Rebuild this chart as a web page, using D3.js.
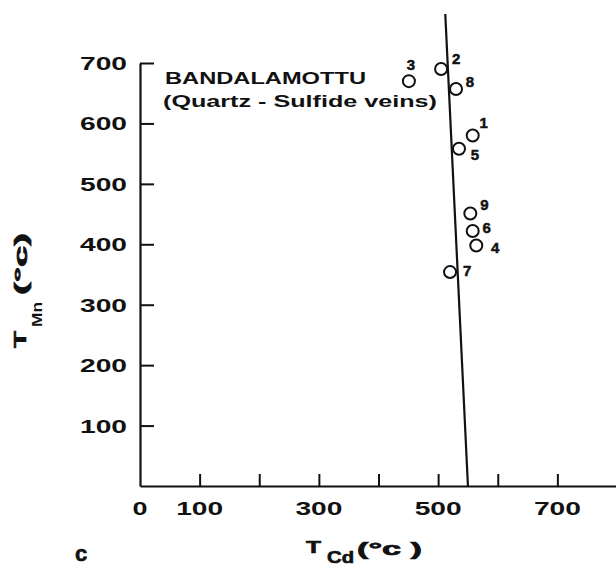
<!DOCTYPE html>
<html>
<head>
<meta charset="utf-8">
<script src="https://cdn.jsdelivr.net/npm/d3@7/dist/d3.min.js"></script>
<style>
  html, body { margin: 0; padding: 0; background: #fff; }
  svg { display: block; }
  text { font-family: "Liberation Sans", Arial, sans-serif; font-weight: bold; fill: #111; }
</style>
</head>
<body>
<svg id="chart" width="616" height="566"></svg>
<script>
// ---- Data ----
const sampleIds = ["1", "2", "3", "4", "5", "6", "7", "8", "9"];
const tCd = [558, 505, 451, 564, 535, 558, 520, 530, 554];   // x: T_Cd (°C)
const tMn = [580, 690, 670, 398, 558, 422, 354, 657, 451];   // y: T_Mn (°C)
const fitLineCd = [550, 512];
const fitLineMn = [0, 781];
const xTickValues = [100, 200, 300, 400, 500, 600, 700];
const xTickLabels = ["0", "100", "300", "500", "700"];
const xTickLabelValues = [0, 100, 300, 500, 700];
const yTickValues = [100, 200, 300, 400, 500, 600, 700];
const yTickLabels = ["100", "200", "300", "400", "500", "600", "700"];
const titleLine1 = "BANDALAMOTTU";
const titleLine2 = "(Quartz - Sulfide veins)";
const panelLabel = "c";

// label offsets (style) for each sample id, in px
const labelOffsets = {
  "1": [11, -13], "2": [15, -10], "3": [2, -17], "4": [19, 2], "5": [16, 6],
  "6": [14, -3], "7": [17, -1], "8": [14, -7], "9": [14, -9]
};

const svg = d3.select("#chart");
const x = d3.scaleLinear().domain([0, 800]).range([140, 617]);
const y = d3.scaleLinear().domain([0, 700]).range([486, 63]);

// Y axis (ticks pointing inward/right)
const yAxis = d3.axisLeft(y).tickValues(yTickValues)
  .tickFormat((d, i) => yTickLabels[i]).tickSizeInner(-14).tickSizeOuter(0).tickPadding(13);
const gy = svg.append("g").attr("transform", `translate(${x(0)},0)`).call(yAxis);
gy.select(".domain").attr("stroke", "#111").attr("stroke-width", 2.2);
gy.selectAll(".tick line").attr("stroke", "#111").attr("stroke-width", 2);
gy.selectAll(".tick text").attr("font-size", 18).attr("fill", "#111")
  .attr("font-family", "Liberation Sans, Arial, sans-serif").attr("font-weight", "bold")
  .attr("textLength", 47).attr("lengthAdjust", "spacingAndGlyphs").attr("dy", "0.36em");

// X axis (ticks pointing up)
const xAxis = d3.axisBottom(x).tickValues(xTickValues).tickFormat("")
  .tickSizeInner(-12).tickSizeOuter(0);
const gx = svg.append("g").attr("transform", `translate(0,${y(0)})`).call(xAxis);
gx.select(".domain").attr("stroke", "#111").attr("stroke-width", 2.2);
gx.selectAll(".tick line").attr("stroke", "#111").attr("stroke-width", 2);

// X tick labels
svg.append("g").selectAll("text").data(xTickLabelValues).join("text")
  .attr("x", d => x(d)).attr("y", 515)
  .attr("text-anchor", "middle").attr("font-size", 18)
  .attr("textLength", (d, i) => xTickLabels[i].length === 1 ? 15 : 47)
  .attr("lengthAdjust", "spacingAndGlyphs")
  .text((d, i) => xTickLabels[i]);

// Fit line
const line = d3.line().x(d => x(d[0])).y(d => y(d[1]));
svg.append("path").datum(fitLineCd.map((v, i) => [v, fitLineMn[i]]))
  .attr("d", line).attr("stroke", "#111").attr("stroke-width", 2.2).attr("fill", "none");

// Points
const pts = sampleIds.map((id, i) => ({ id, cd: tCd[i], mn: tMn[i] }));
svg.append("g").selectAll("circle").data(pts).join("circle")
  .attr("cx", d => x(d.cd)).attr("cy", d => y(d.mn)).attr("r", 6)
  .attr("fill", "none").attr("stroke", "#111").attr("stroke-width", 2);

svg.append("g").selectAll("text").data(pts).join("text")
  .attr("x", d => x(d.cd) + labelOffsets[d.id][0])
  .attr("y", d => y(d.mn) + labelOffsets[d.id][1])
  .attr("dy", "0.36em").attr("text-anchor", "middle").attr("font-size", 15)
  .attr("font-weight", "normal").attr("stroke", "#111").attr("stroke-width", 0.5)
  .text(d => d.id);

// Title
svg.append("text").attr("x", 165).attr("y", 84).attr("font-size", 17)
  .attr("textLength", 201).attr("lengthAdjust", "spacingAndGlyphs").text(titleLine1);
svg.append("text").attr("x", 163).attr("y", 107).attr("font-size", 17)
  .attr("textLength", 274).attr("lengthAdjust", "spacingAndGlyphs").text(titleLine2);

// X axis title
const xt = svg.append("g");
xt.append("text").attr("x", 306).attr("y", 553).attr("font-size", 16).attr("font-weight", "normal")
  .attr("stroke", "#111").attr("stroke-width", 0.6)
  .attr("textLength", 15).attr("lengthAdjust", "spacingAndGlyphs").text("T");
xt.append("text").attr("x", 327).attr("y", 563).attr("font-size", 16).attr("font-weight", "normal")
  .attr("stroke", "#111").attr("stroke-width", 0.6)
  .attr("textLength", 27).attr("lengthAdjust", "spacingAndGlyphs").text("Cd");
xt.append("text").attr("x", 357).attr("y", 555).attr("font-size", 18).attr("font-weight", "normal")
  .attr("stroke", "#111").attr("stroke-width", 0.7)
  .attr("textLength", 65).attr("lengthAdjust", "spacingAndGlyphs").text("(°c )");

// Y axis title
const yt = svg.append("g").attr("transform", "translate(26,348) rotate(-90)");
yt.append("text").attr("x", 0).attr("y", 0).attr("font-size", 16).attr("font-weight", "normal")
  .attr("stroke", "#111").attr("stroke-width", 0.6)
  .attr("textLength", 17).attr("lengthAdjust", "spacingAndGlyphs").text("T");
yt.append("text").attr("x", 21).attr("y", 16).attr("font-size", 15)
  .attr("textLength", 25).attr("lengthAdjust", "spacingAndGlyphs").text("Mn");
yt.append("text").attr("x", 53).attr("y", 1).attr("font-size", 18).attr("font-weight", "normal")
  .attr("stroke", "#111").attr("stroke-width", 0.7)
  .attr("textLength", 62).attr("lengthAdjust", "spacingAndGlyphs").text("(°c)");

// Panel label
svg.append("text").attr("x", 75).attr("y", 561).attr("font-size", 22)
  .attr("stroke", "#111").attr("stroke-width", 0.6).text(panelLabel);
</script>
</body>
</html>
